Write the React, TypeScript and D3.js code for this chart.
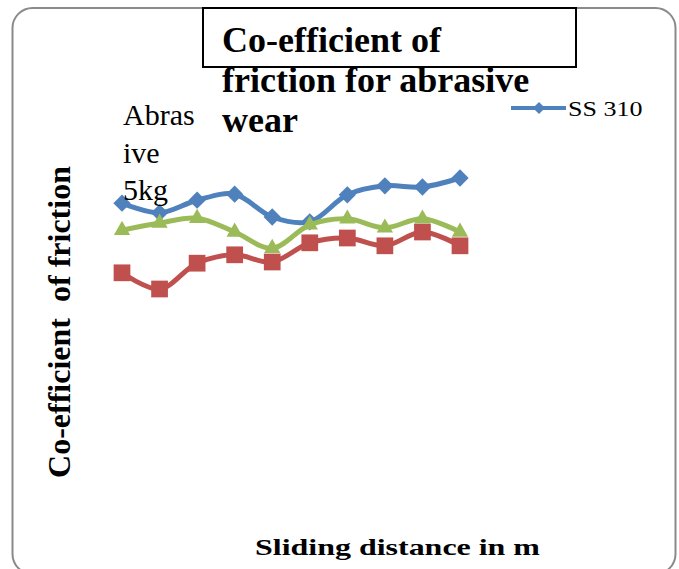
import React from "react";
import * as d3 from "d3";

// Sliding-distance steps (x) and coefficient of friction for each material series
const distances = ["1", "2", "3", "4", "5", "6", "7", "8", "9", "10"];
const ss310 = [0.528, 0.512, 0.533, 0.543, 0.505, 0.497, 0.542, 0.557, 0.555, 0.57];
const series2 = [0.412, 0.385, 0.428, 0.442, 0.43, 0.462, 0.47, 0.457, 0.48, 0.457];
const series3 = [0.483, 0.495, 0.503, 0.48, 0.453, 0.492, 0.502, 0.487, 0.502, 0.48];
const titleLines = ["Co-efficient of", "friction for abrasive", "wear"];
const noteLines = ["Abras", "ive", "5kg"];

const W = 679;
const H = 569;
const serif = "Liberation Serif";

export default function App() {
  const x = d3.scalePoint<string>().domain(distances).range([122, 460]);
  const y = d3.scaleLinear().domain([0, 0.6]).range([520, 160]);

  const line = d3
    .line<number>()
    .x((_, i) => x(distances[i]) as number)
    .y((d) => y(d))
    .curve(d3.curveCatmullRom.alpha(0.5));

  const diamond = d3.symbol().type(d3.symbolSquare).size(150)();
  const square = d3.symbol().type(d3.symbolSquare).size(280)();
  const triangle = d3.symbol().type(d3.symbolTriangle).size(115)();

  const series = [
    { name: "SS 310", values: ss310, color: "#4F81BD", shape: diamond, rot: 45 },
    { name: "S2", values: series2, color: "#C0504D", shape: square, rot: 0 },
    { name: "S3", values: series3, color: "#9BBB59", shape: triangle, rot: 0 },
  ];

  return (
    <svg
      width={W}
      height={H}
      style={{ position: "absolute", left: 0, top: 0, background: "#fff" }}
    >
      {/* chart area frame */}
      <rect
        x={12.5}
        y={8}
        width={663}
        height={566}
        rx={20}
        ry={20}
        fill="#fff"
        stroke="#8a8a8a"
        strokeWidth={2}
      />

      {/* title box */}
      <rect x={203} y={8} width={373} height={59} fill="none" stroke="#000" strokeWidth={2} />
      {titleLines.map((t, i) => (
        <text
          key={t}
          x={222}
          y={52 + i * 40}
          fontFamily={serif}
          fontWeight="bold"
          fontSize={36}
          fill="#000"
        >
          {t}
        </text>
      ))}

      {/* series lines */}
      {series.map((s) => (
        <g key={s.name}>
          <path d={line(s.values) ?? ""} fill="none" stroke={s.color} strokeWidth={5} strokeLinejoin="round" />
          {s.values.map((v, i) => (
            <path
              key={i}
              d={s.shape ?? ""}
              fill={s.color}
              transform={`translate(${x(distances[i])},${y(v)}) rotate(${s.rot})`}
            />
          ))}
        </g>
      ))}

      {/* annotation */}
      {noteLines.map((t, i) => (
        <text key={t} x={123} y={125 + i * 37.5} fontFamily={serif} fontSize={30} fill="#000">
          {t}
        </text>
      ))}

      {/* legend */}
      <line x1={511} x2={566} y1={108} y2={108} stroke="#4F81BD" strokeWidth={4} />
      <path d={diamond ?? ""} fill="#4F81BD" transform="translate(539,108) rotate(45) scale(0.7)" />
      <text
        x={0}
        y={0}
        fontFamily={serif}
        fontSize={20}
        fill="#000"
        transform="translate(568,116) scale(1.3,1)"
      >
        SS 310
      </text>

      {/* axis titles */}
      <text
        transform="translate(70,322) rotate(-90)"
        textAnchor="middle"
        fontFamily={serif}
        fontWeight="bold"
        fontSize={32}
        fill="#000"
        style={{ whiteSpace: "pre" }}
      >
        {"Co-efficient  of friction"}
      </text>
      <text
        transform="translate(397.5,555) scale(1.39,1)"
        textAnchor="middle"
        fontFamily={serif}
        fontWeight="bold"
        fontSize={23}
        fill="#000"
      >
        Sliding distance in m
      </text>
    </svg>
  );
}
